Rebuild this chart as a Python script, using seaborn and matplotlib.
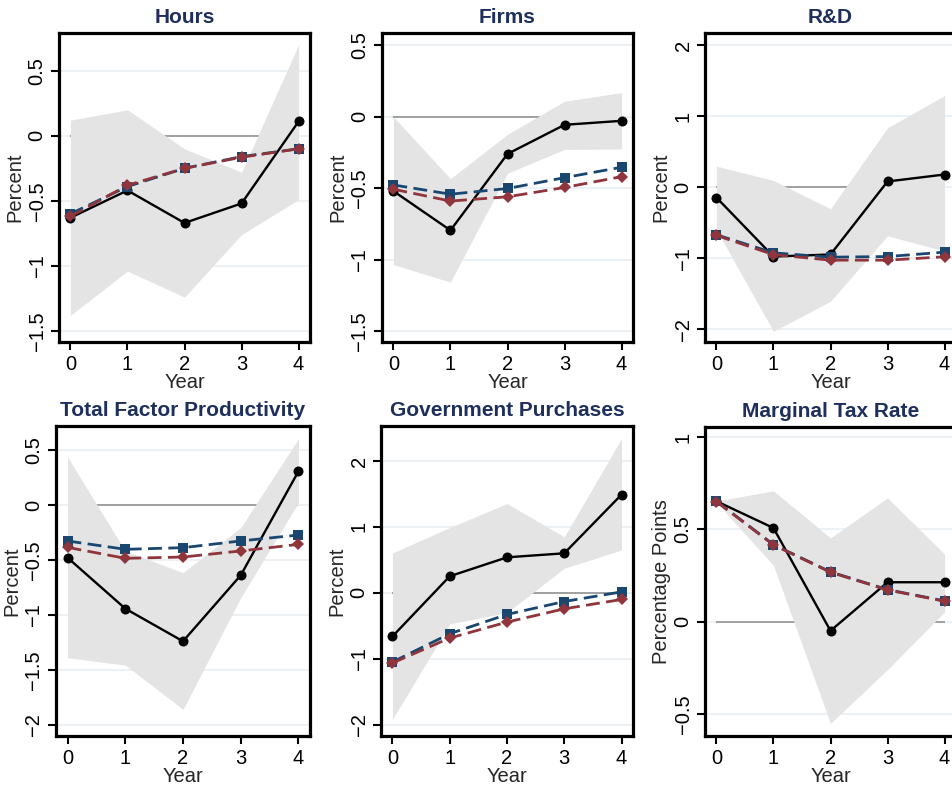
import matplotlib
matplotlib.use("Agg")
import matplotlib.pyplot as plt
import seaborn as sns
import numpy as np
import pandas as pd

# ---------------- data ----------------
years = [0, 1, 2, 3, 4]

titles = ["Hours", "Firms", "R&D", "Total Factor Productivity",
          "Government Purchases", "Marginal Tax Rate"]
ylabels = ["Percent", "Percent", "Percent", "Percent", "Percent", "Percentage Points"]

hours_est = [-0.63, -0.42, -0.67, -0.52, 0.11]
hours_blue = [-0.60, -0.39, -0.25, -0.16, -0.10]
hours_red = [-0.62, -0.38, -0.25, -0.165, -0.10]
hours_hi = [0.12, 0.20, -0.10, -0.28, 0.70]
hours_lo = [-1.38, -1.04, -1.24, -0.76, -0.49]

firms_est = [-0.52, -0.795, -0.26, -0.056, -0.028]
firms_blue = [-0.477, -0.542, -0.502, -0.426, -0.353]
firms_red = [-0.507, -0.59, -0.56, -0.495, -0.419]
firms_hi = [0.0, -0.433, -0.123, 0.109, 0.17]
firms_lo = [-1.035, -1.158, -0.395, -0.228, -0.226]

rd_est = [-0.146, -0.977, -0.948, 0.08, 0.178]
rd_blue = [-0.67, -0.925, -0.986, -0.977, -0.915]
rd_red = [-0.68, -0.95, -1.028, -1.028, -0.98]
rd_hi = [0.296, 0.094, -0.305, 0.836, 1.29]
rd_lo = [-0.60, -2.03, -1.606, -0.685, -0.90]

tfp_est = [-0.479, -0.942, -1.239, -0.639, 0.306]
tfp_blue = [-0.327, -0.403, -0.388, -0.327, -0.273]
tfp_red = [-0.385, -0.485, -0.473, -0.418, -0.358]
tfp_hi = [0.436, -0.418, -0.615, -0.206, 0.603]
tfp_lo = [-1.388, -1.455, -1.858, -0.842, 0.021]

gov_est = [-0.66, 0.252, 0.539, 0.60, 1.49]
gov_blue = [-1.048, -0.62, -0.327, -0.131, 0.015]
gov_red = [-1.063, -0.685, -0.443, -0.242, -0.10]
gov_hi = [0.605, 0.99, 1.355, 0.85, 2.34]
gov_lo = [-1.92, -0.47, -0.30, 0.373, 0.65]

mtr_est = [0.652, 0.507, -0.05, 0.213, 0.213]
mtr_blue = [0.652, 0.417, 0.269, 0.173, 0.112]
mtr_red = [0.650, 0.415, 0.267, 0.171, 0.110]
mtr_hi = [0.653, 0.708, 0.453, 0.67, 0.365]
mtr_lo = [0.645, 0.305, -0.552, -0.26, 0.052]

yticks_list = [
    [0.5, 0, -0.5, -1, -1.5],
    [0.5, 0, -0.5, -1, -1.5],
    [2, 1, 0, -1, -2],
    [0.5, 0, -0.5, -1, -1.5, -2],
    [2, 1, 0, -1, -2],
    [1, 0.5, 0, -0.5],
]
ytick_labels = [
    ["0.5", "0", "\u22120.5", "\u22121", "\u22121.5"],
    ["0.5", "0", "\u22120.5", "\u22121", "\u22121.5"],
    ["2", "1", "0", "\u22121", "\u22122"],
    ["0.5", "0", "\u22120.5", "\u22121", "\u22121.5", "\u22122"],
    ["2", "1", "0", "\u22121", "\u22122"],
    ["1", "0.5", "0", "\u22120.5"],
]
ylims = [(-1.585, 0.79), (-1.577, 0.587), (-2.18, 2.17),
         (-2.10, 0.718), (-2.17, 2.53), (-0.62, 1.054)]

panels = [
    (hours_est, hours_blue, hours_red, hours_lo, hours_hi),
    (firms_est, firms_blue, firms_red, firms_lo, firms_hi),
    (rd_est, rd_blue, rd_red, rd_lo, rd_hi),
    (tfp_est, tfp_blue, tfp_red, tfp_lo, tfp_hi),
    (gov_est, gov_blue, gov_red, gov_lo, gov_hi),
    (mtr_est, mtr_blue, mtr_red, mtr_lo, mtr_hi),
]

# ---------------- style ----------------
sns.set_theme(style="white")
plt.rcParams["font.family"] = ["Liberation Sans", "DejaVu Sans"]
plt.rcParams["axes.unicode_minus"] = True

W, H = 952, 788
fig = plt.figure(figsize=(W / 100, H / 100), dpi=100)
fig.patch.set_facecolor("white")

# axes frames in pixels: (left, top, right, bottom)
frames = [
    (59, 33, 310, 342), (382, 33, 633, 342), (705, 33, 956, 342),
    (56, 426, 310, 736), (381, 426, 633, 736), (705, 427, 956, 736),
]

TITLE_C = "#1e2f5e"
BLUE = "#1a476f"
RED = "#90353b"
BAND = "#e4e4e4"
GRID = "#e8eff2"
DASH = (0, (5.0, 2.3))

for i, (l, t, r, b) in enumerate(frames):
    ax = fig.add_axes([l / W, 1 - b / H, (r - l) / W, (b - t) / H])
    est, blue, red, lo, hi = panels[i]
    ax.set_xlim(-0.2, 4.2)
    ax.set_ylim(*ylims[i])
    ax.set_yticks(yticks_list[i])
    ax.set_yticklabels(ytick_labels[i])
    ax.set_xticks(years)
    ax.set_xticklabels([str(y) for y in years])
    for yv in yticks_list[i]:
        ax.axhline(yv, color=GRID, lw=1.2, zorder=0)
    ax.hlines(0, years[0], years[-1], color="#9a9a9a", lw=1.3, zorder=1)
    ax.fill_between(years, lo, hi, color=BAND, lw=0, zorder=2)

    df = pd.DataFrame({"Year": years, "est": est, "blue": blue, "red": red})
    sns.lineplot(data=df, x="Year", y="est", ax=ax, color="black", lw=1.7,
                 marker="o", markersize=7.2, markeredgewidth=0, zorder=3)
    sns.lineplot(data=df, x="Year", y="blue", ax=ax, color=BLUE, lw=2.0,
                 linestyle=DASH, marker="s", markersize=6.7,
                 markeredgewidth=0, zorder=4)
    sns.lineplot(data=df, x="Year", y="red", ax=ax, color=RED, lw=2.0,
                 linestyle=DASH, marker="D", markersize=6.2,
                 markeredgewidth=0, zorder=5)

    ax.set_title(titles[i], color=TITLE_C, fontsize=15, fontweight="bold", pad=7)
    ax.set_xlabel("Year", fontsize=14.5, labelpad=0)
    ax.set_ylabel(ylabels[i], fontsize=14.5, labelpad=2)
    ax.tick_params(axis="both", direction="out", length=6, width=1.5,
                   colors="black", labelsize=14.5, left=True, bottom=True, pad=3)
    ax.tick_params(axis="y", labelrotation=90)
    for lab in ax.get_yticklabels():
        lab.set_va("center")
    for sp in ax.spines.values():
        sp.set_visible(True)
        sp.set_color("black")
        sp.set_linewidth(2.3)
    ax.grid(False)
    ax.set_facecolor("white")

fig.savefig("out.png", dpi=100, facecolor="white")
